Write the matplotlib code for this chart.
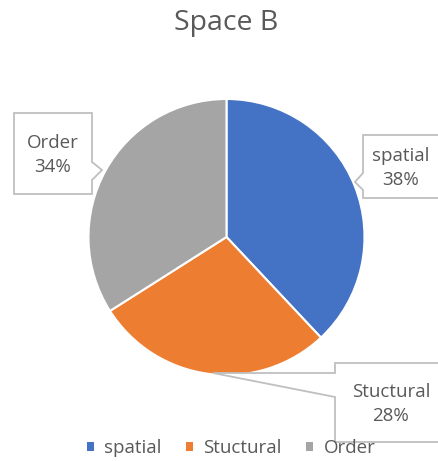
import matplotlib.pyplot as plt
from matplotlib.patches import Polygon, Patch

plt.rcParams['font.family'] = ['Open Sans', 'DejaVu Sans']

labels = ['spatial', 'Stuctural', 'Order']
shares = [38, 28, 34]
colors = ['#4472C4', '#ED7D31', '#A5A5A5']
title = 'Space B'

W, H = 439, 461
fig = plt.figure(figsize=(W / 100, H / 100), dpi=100)
ax = fig.add_axes([0, 0, 1, 1])

cx, cy, r = 226.5, H - 237, 138
ax.pie(shares, colors=colors, startangle=90, counterclock=False,
       center=(cx, cy), radius=r, frame=True,
       wedgeprops=dict(edgecolor='white', linewidth=1.5))
ax.set_xlim(0, W)
ax.set_ylim(0, H)
ax.set_aspect('equal')
ax.axis('off')


def callout(pts, text_xy, text):
    pts = [(x, H - y) for x, y in pts]
    ax.add_patch(Polygon(pts, closed=True, facecolor='white',
                         edgecolor='#BFBFBF', linewidth=1.3, zorder=5))
    ax.text(text_xy[0], H - text_xy[1], text, ha='center', va='center',
            fontsize=13.5, color='#595959', linespacing=1.4, zorder=6)


# box outlines with pointer notches, in pixel space
boxes = {
    'Order': [(14, 113), (92, 113), (92, 162), (102, 170), (92, 180),
              (92, 194), (14, 194)],
    'spatial': [(363, 135), (440, 135), (440, 198), (363, 198),
                (363, 190), (355, 182), (363, 173)],
    'Stuctural': [(335, 363), (440, 363), (440, 442), (335, 442),
                  (335, 397), (213, 373), (335, 373)],
}
text_pos = {'Order': (53, 155), 'spatial': (401, 168), 'Stuctural': (391, 404)}

for name, pct in zip(labels, shares):
    callout(boxes[name], text_pos[name], f'{name}\n{pct}%')

ax.text(226, H - 23, title, ha='center', va='center', fontsize=20.5,
        color='#595959')

handles = [Patch(facecolor=c, edgecolor='none') for c in colors]
leg = ax.legend(handles, labels, loc='center', ncol=3, frameon=False,
                bbox_to_anchor=(231 / W, 1 - 448 / H), fontsize=13.5,
                handlelength=0.38, handleheight=0.38, handletextpad=0.55,
                columnspacing=1.3, labelcolor='#595959')

fig.savefig('out.png', dpi=100)
